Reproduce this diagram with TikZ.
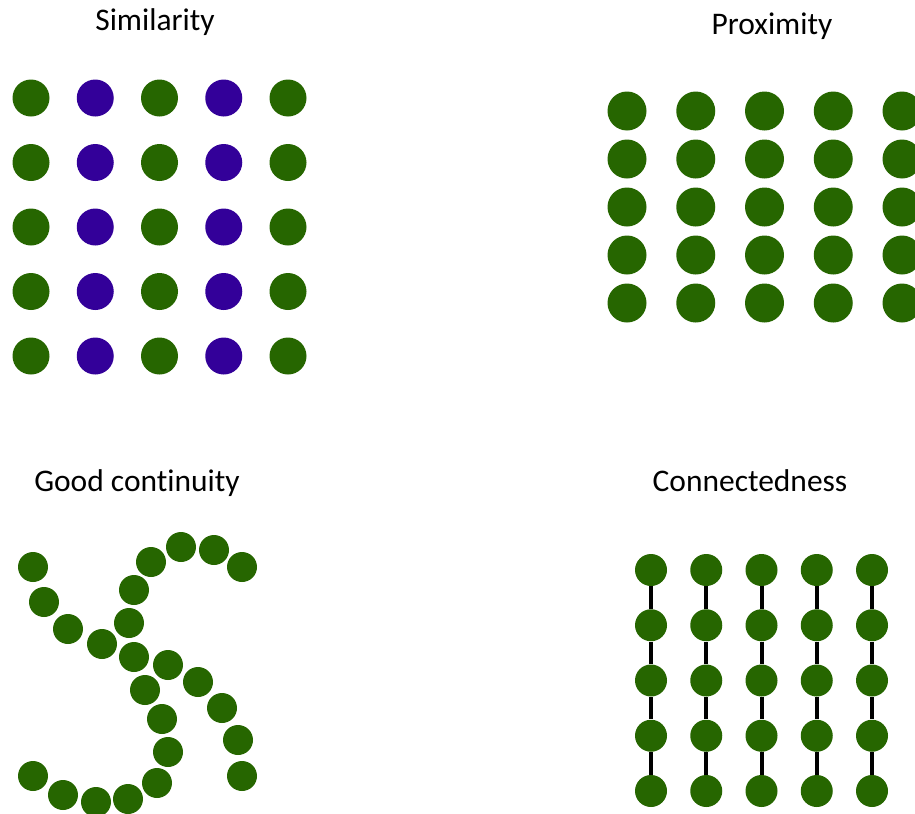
\documentclass[tikz,border=0pt]{standalone}
\usepackage{fontspec}
\setmainfont{Carlito}[Ligatures=NoCommon]
\definecolor{dotgreen}{RGB}{38,102,0}
\definecolor{dotpurple}{RGB}{51,0,153}
\tikzset{
  dot/.style={circle,fill=dotgreen,draw=none,inner sep=0pt,minimum size=#1},
  dot/.default=27.75pt,
  title/.style={anchor=base,font=\fontsize{23.6}{28}\selectfont},
  link/.style={line width=3pt,black}
}
\begin{document}
\begin{tikzpicture}[x=0.75pt,y=-0.75pt]
  \useasboundingbox (0,0) rectangle (915,814);

  % Similarity
  \node[title] (simtitle) at (155,30) {Similarity};
  \foreach \i in {1,...,5}
    \foreach \j in {1,...,5} {
      \pgfmathsetmacro{\px}{31+64.25*(\i-1)}
      \pgfmathsetmacro{\py}{98+64.5*(\j-1)}
      \ifodd\i
        \node[dot] (s\i-\j) at (\px,\py) {};
      \else
        \node[dot,fill=dotpurple] (s\i-\j) at (\px,\py) {};
      \fi
    }

  % Proximity
  \node[title] (proxtitle) at (772,34) {Proximity};
  \foreach \i in {1,...,5}
    \foreach \j in {1,...,5} {
      \pgfmathsetmacro{\px}{627+68.75*(\i-1)}
      \pgfmathsetmacro{\py}{111+48*(\j-1)}
      \node[dot=29.25pt] (p\i-\j) at (\px,\py) {};
    }

  % Good continuity
  \node[title] (conttitle) at (137,491) {Good continuity};
  \foreach \pos [count=\k] in {(33,567),(44,602),(68,629),(102,644),(134,657),
      (145,690),(162,719),(168,752),(157,783),(128,799),(96,802),(63,795),(33,776)}
    \node[dot=22.5pt] (ga\k) at \pos {};
  \foreach \pos [count=\k] in {(242,567),(214,550),(181,547),(151,562),(134,590),
      (129,623),(168,665),(198,682),(222,708),(238,740),(242,776)}
    \node[dot=22.5pt] (gb\k) at \pos {};

  % Connectedness
  \node[title] (conntitle) at (750,491) {Connectedness};
  \foreach \i in {1,...,5} {
    \foreach \j in {1,...,5} {
      \pgfmathsetmacro{\px}{651+55.25*(\i-1)}
      \pgfmathsetmacro{\py}{570+55.25*(\j-1)}
      \node[dot=24pt] (c\i-\j) at (\px,\py) {};
    }
    \foreach \j [evaluate=\j as \n using int(\j+1)] in {1,...,4}
      \draw[link] (c\i-\j) -- (c\i-\n);
  }
\end{tikzpicture}
\end{document}
